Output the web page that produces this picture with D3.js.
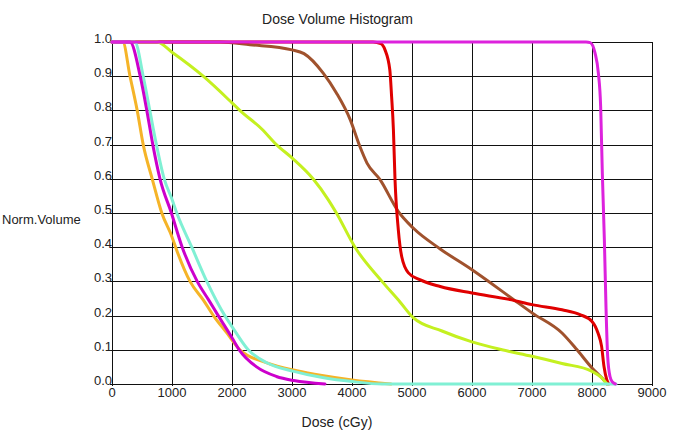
<!DOCTYPE html>
<html>
<head>
<meta charset="utf-8">
<script src="https://cdn.jsdelivr.net/npm/d3@7"></script>
<style>
  html, body { margin: 0; padding: 0; background: #fff; }
  svg { display: block; }
  text { font-family: "Liberation Sans", Arial, sans-serif; fill: #222; }
</style>
</head>
<body>
<svg id="chart" width="675" height="448"></svg>
<script>
// ---- data ----
const xTicks = [0, 1000, 2000, 3000, 4000, 5000, 6000, 7000, 8000, 9000];
const yTicks = [0, 0.1, 0.2, 0.3, 0.4, 0.5, 0.6, 0.7, 0.8, 0.9, 1.0];

const brownDose = [0,1800,2300,3000,3200,3520,3740,3970,4130,4250,4470,4770,5020,5470,6000,6660,7000,7500,7750,8000,8190,8250];
const brownVol  = [1,1,0.992,0.977,0.966,0.909,0.851,0.773,0.695,0.646,0.597,0.505,0.456,0.395,0.334,0.251,0.208,0.149,0.1,0.047,0.013,0];

const redDose = [0,4350,4480,4550,4630,4660,4690,4717,4772,4828,4940,5130,5470,6000,6660,7000,7500,7800,8000,8100,8160,8200,8245,8280];
const redVol  = [1,1,0.995,0.977,0.919,0.841,0.744,0.597,0.451,0.373,0.325,0.305,0.285,0.266,0.246,0.232,0.217,0.203,0.183,0.149,0.11,0.051,0.013,0];

const greenDose = [0,750,1000,1520,2000,2130,2500,2740,3000,3350,3600,3740,4050,4500,4800,5020,5500,6000,6500,7000,7500,8000,8150,8250];
const greenVol  = [1,1,0.97,0.9,0.822,0.8,0.745,0.7,0.661,0.6,0.54,0.5,0.4,0.3,0.24,0.194,0.155,0.123,0.1,0.081,0.06,0.037,0.02,0];

const orangeDose = [0,180,300,420,520,670,830,1000,1060,1300,1520,1690,1910,2130,2580,3080,3500,4000,4650];
const orangeVol  = [1,1,0.9,0.8,0.7,0.6,0.5,0.43,0.4,0.3,0.246,0.2,0.15,0.1,0.062,0.039,0.025,0.012,0];

const cyanDose = [0,380,520,630,740,870,1000,1080,1330,1580,1880,2000,2270,2580,3030,3530,4000,4500,8400];
const cyanVol  = [1,1,0.9,0.8,0.7,0.6,0.54,0.5,0.4,0.3,0.2,0.168,0.1,0.062,0.037,0.018,0.007,0,0];

const magentaLowDose = [0,300,470,580,680,800,990,1170,1420,1610,1770,2000,2120,2410,2740,3030,3550];
const magentaLowVol  = [1,1,0.9,0.8,0.7,0.6,0.5,0.4,0.3,0.246,0.2,0.135,0.1,0.05,0.022,0.01,0];

const magentaHighDose = [0,7900,7970,8050,8106,8144,8172,8206,8233,8261,8300,8340,8390];
const magentaHighVol  = [1,1,0.998,0.968,0.909,0.812,0.617,0.422,0.227,0.081,0.022,0.006,0];

const series = [
  { name: "brown",       dose: brownDose,       vol: brownVol,       color: "#a0522d" },
  { name: "red",         dose: redDose,         vol: redVol,         color: "#e00000" },
  { name: "green",       dose: greenDose,       vol: greenVol,       color: "#c4f020" },
  { name: "orange",      dose: orangeDose,      vol: orangeVol,      color: "#f5b428" },
  { name: "cyan",        dose: cyanDose,        vol: cyanVol,        color: "#80f0d4" },
  { name: "magentaLow",  dose: magentaLowDose,  vol: magentaLowVol,  color: "#cc00cc" },
  { name: "magentaHigh", dose: magentaHighDose, vol: magentaHighVol, color: "#dd22dd" }
];

// ---- drawing ----
const svg = d3.select("#chart");
const x = d3.scaleLinear().domain([0, 9000]).range([112, 652]);
const y = d3.scaleLinear().domain([0, 1]).range([384, 42]);

const grid = svg.append("g").attr("shape-rendering", "crispEdges");
grid.selectAll("line.v").data(xTicks).join("line")
  .attr("x1", d => Math.round(x(d)) + 0.5).attr("x2", d => Math.round(x(d)) + 0.5)
  .attr("y1", y(1)).attr("y2", y(0) + 2)
  .attr("stroke", "#111").attr("stroke-width", 1);
grid.selectAll("line.h").data(yTicks).join("line")
  .attr("y1", d => Math.round(y(d)) + 0.5).attr("y2", d => Math.round(y(d)) + 0.5)
  .attr("x1", x(0) - 2).attr("x2", x(9000))
  .attr("stroke", "#111").attr("stroke-width", 1);

// tick labels
svg.append("g").selectAll("text").data(yTicks).join("text")
  .attr("x", x(0)).attr("y", d => Math.round(y(d)) + 0.5)
  .attr("text-anchor", "end")
  .attr("font-size", 13)
  .text(d => d3.format(".1f")(d));

svg.append("g").selectAll("text").data(xTicks).join("text")
  .attr("x", d => x(d)).attr("y", 397)
  .attr("text-anchor", "middle")
  .attr("font-size", 13)
  .text(d => d);

const line = d3.line()
  .x(d => x(d[0]))
  .y(d => y(d[1]))
  .curve(d3.curveMonotoneX);

svg.append("g").selectAll("path").data(series).join("path")
  .attr("d", s => line(s.dose.map((d, i) => [d, s.vol[i]])))
  .attr("fill", "none")
  .attr("stroke", s => s.color)
  .attr("stroke-width", 3)
  .attr("stroke-linejoin", "round")
  .attr("stroke-linecap", "round");

// titles
svg.append("text").attr("x", 337.5).attr("y", 24).attr("text-anchor", "middle")
  .attr("font-size", 14).text("Dose Volume Histogram");
svg.append("text").attr("x", 2).attr("y", 224).attr("font-size", 13).text("Norm.Volume");
svg.append("text").attr("x", 337).attr("y", 427).attr("text-anchor", "middle")
  .attr("font-size", 14).text("Dose (cGy)");
</script>
</body>
</html>
